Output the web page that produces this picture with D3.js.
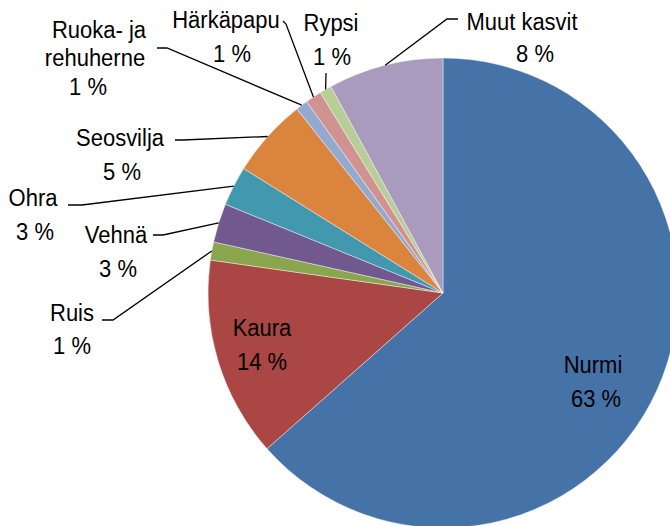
<!DOCTYPE html>
<html>
<head>
<meta charset="utf-8">
<script src="https://cdn.jsdelivr.net/npm/d3@7"></script>
<style>
  html, body { margin: 0; padding: 0; background: #fff; }
  svg { display: block; }
  text { font-family: "Liberation Sans", Arial, sans-serif; font-size: 22px; fill: #000; }
</style>
</head>
<body>
<svg id="chart" width="670" height="526"></svg>
<script>
// Viljelyala kasveittain, osuus prosentteina
const categories = ["Nurmi", "Kaura", "Ruis", "Vehnä", "Ohra", "Seosvilja",
  "Ruoka- ja rehuherne", "Härkäpapu", "Rypsi", "Muut kasvit"];
const shares = [63.47, 13.77, 1.25, 2.67, 2.72, 5.44, 0.83, 1.11, 0.83, 7.91];
const colors = ["#4572A7", "#AA4643", "#89A54E", "#71588F", "#4198AF", "#DB843D",
  "#93A9CF", "#D19392", "#B9CD96", "#A99BBD"];

// Label text lines (name wrapped where needed)
const nameLines = [["Nurmi"], ["Kaura"], ["Ruis"], ["Vehnä"], ["Ohra"], ["Seosvilja"],
  ["Ruoka- ja", "rehuherne"], ["Härkäpapu"], ["Rypsi"], ["Muut kasvit"]];

// Label placement: x per line, baseline per line; leader: label-side start and elbow
const labelLayout = [
  { xs: [593, 596], ys: [373, 407], leader: null },
  { xs: [262, 262], ys: [336, 370], leader: null },
  { xs: [72, 72], ys: [321, 354], leader: [[102, 320], [113, 320]] },
  { xs: [116, 118], ys: [243, 277], leader: [[153, 235], [163, 235]] },
  { xs: [33, 35], ys: [206, 240], leader: [[68, 205], [82, 205]] },
  { xs: [120, 122], ys: [146, 180], leader: [[175, 140], [183, 140]] },
  { xs: [99, 95, 88], ys: [38, 66, 95], leader: [[157, 48], [167, 48]] },
  { xs: [226, 232], ys: [28, 62], leader: [[283, 21], [286, 24]] },
  { xs: [331, 332], ys: [31, 65], leader: [[326, 73], [326, 75]] },
  { xs: [522, 535], ys: [30, 62], leader: [[458, 19], [447, 19]] }
];

const cx = 443, cy = 293, radius = 235;
const svg = d3.select("#chart");
const g = svg.append("g").attr("transform", `translate(${cx},${cy})`);

const pie = d3.pie().sort(null).value(d => d.value);
const arcs = pie(categories.map((c, i) => ({ name: c, value: shares[i], i })));
const arc = d3.arc().innerRadius(0).outerRadius(radius);

g.selectAll("path.slice")
  .data(arcs)
  .join("path")
  .attr("class", "slice")
  .attr("d", arc)
  .attr("fill", d => colors[d.data.i])
  .attr("stroke", "#ffffff")
  .attr("stroke-opacity", 0.6)
  .attr("stroke-width", 0.7);

const fmt = v => `${d3.format(".0f")(v)} %`;

// Leader lines: from the label to the slice edge at its mid-angle
const edgePoint = d => {
  const a = (d.startAngle + d.endAngle) / 2;
  return [cx + radius * Math.sin(a), cy - radius * Math.cos(a)];
};

svg.selectAll("polyline.leader")
  .data(arcs.filter(d => labelLayout[d.data.i].leader))
  .join("polyline")
  .attr("class", "leader")
  .attr("fill", "none")
  .attr("stroke", "#000")
  .attr("stroke-width", 1.3)
  .attr("points", d => {
    const L = labelLayout[d.data.i].leader;
    return [L[0], L[1], edgePoint(d)].map(p => p.join(",")).join(" ");
  });

// Labels: category name lines followed by the rounded percentage
const labels = svg.selectAll("g.label")
  .data(arcs)
  .join("g")
  .attr("class", "label");

labels.each(function(d) {
  const lay = labelLayout[d.data.i];
  const lines = nameLines[d.data.i].concat([fmt(d.data.value)]);
  d3.select(this).selectAll("text")
    .data(lines)
    .join("text")
    .attr("text-anchor", "middle")
    .attr("transform", (t, k) => `translate(${lay.xs[k]},${lay.ys[k]}) scale(1,1.12)`)
    .text(t => t);
});
</script>
</body>
</html>
